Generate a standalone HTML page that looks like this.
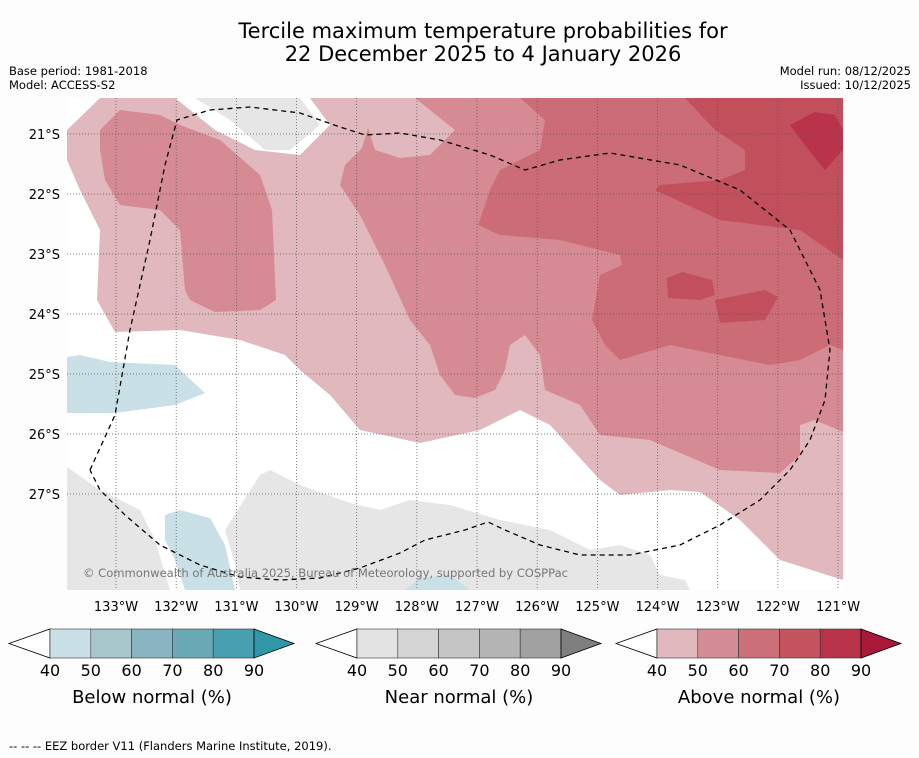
<!DOCTYPE html>
<html><head><meta charset="utf-8"><style>
body{margin:0;background:#fff;font-family:"Liberation Sans","DejaVu Sans",sans-serif}
svg{display:block}
</style></head><body>
<svg id="chart" width="919" height="758" viewBox="0 0 919 758" xmlns="http://www.w3.org/2000/svg" font-family="DejaVu Sans, Liberation Sans, sans-serif">
<rect width="919" height="758" fill="#fdfdfd"/>
<text x="483" y="38" font-size="21" text-anchor="middle">Tercile maximum temperature probabilities for</text>
<text x="483" y="61" font-size="21" text-anchor="middle">22 December 2025 to 4 January 2026</text>
<text x="9" y="75" font-size="11.5">Base period: 1981-2018</text>
<text x="9" y="89" font-size="11.5">Model: ACCESS-S2</text>
<text x="911" y="75" font-size="11.5" text-anchor="end">Model run: 08/12/2025</text>
<text x="911" y="89" font-size="11.5" text-anchor="end">Issued: 10/12/2025</text>
<g id="map">
<clipPath id="mc"><rect x="67" y="98" width="776" height="492"/></clipPath>
<g clip-path="url(#mc)">
<rect x="67" y="98" width="776" height="492" fill="#fff"/>
<polygon fill="#e0b8bd" points="100,98 843,98 843,580 780,560 740,520 700,492 670,490 620,495 600,480 550,425 520,410 480,430 420,443 360,430 330,395 300,370 285,355 240,340 180,330 115,332 97,300 100,230 80,190 67,160 67,130"/>
<polygon fill="#fff" points="175,98 215,130 255,150 300,155 330,125 310,98"/>
<polygon fill="#e6e6e6" points="195,98 230,120 265,150 290,150 320,125 300,98"/>
<polygon fill="#d68a93" points="100,130 120,110 160,115 180,125 220,140 260,175 272,210 276,300 260,310 215,312 190,300 185,290 180,230 160,210 120,205 105,180 100,150"/>
<polygon fill="#d68a93" points="415,98 455,130 430,155 400,158 375,150 368,128 362,148 345,165 340,185 360,215 385,265 410,320 430,345 440,375 455,395 475,398 495,390 505,370 510,345 525,335 540,355 545,390 580,405 600,435 650,440 720,470 780,473 800,455 800,425 815,420 843,432 843,98"/>
<polygon fill="#d68a93" points="453,283 483,283 483,297 465,299"/>
<polygon fill="#cb6c76" points="520,98 545,120 540,150 520,160 500,170 490,190 478,225 500,235 560,240 620,255 622,265 600,275 592,320 605,345 620,360 670,345 720,355 770,365 800,360 830,345 843,350 843,98"/>
<polygon fill="#c24f5c" points="685,98 715,130 745,150 745,170 720,180 660,185 655,190 720,220 800,230 843,260 843,98"/>
<polygon fill="#c24f5c" points="667,278 683,272 712,280 715,295 700,300 668,298"/>
<polygon fill="#c24f5c" points="715,300 765,290 778,297 765,320 720,323"/>
<polygon fill="#b9344a" points="790,125 815,112 835,115 843,130 843,150 825,170 805,145"/>
<polygon fill="#c9e1e6" points="67,357 80,355 110,362 175,365 205,393 175,405 115,413 67,413"/>
<polygon fill="#e6e6e6" points="67,467 100,490 140,510 155,540 170,590 67,590"/>
<polygon fill="#e6e6e6" points="225,530 260,475 270,470 300,485 350,503 380,510 410,500 450,505 500,520 550,530 590,550 620,545 650,555 660,575 685,580 690,590 600,590 240,590 235,565"/>
<polygon fill="#c9e1e6" points="165,515 180,510 210,518 225,545 235,590 185,590 175,560 165,540"/>
<polygon fill="#c9e1e6" points="405,590 420,578 450,575 470,590"/>
<g id="grid" stroke="#555" stroke-width="0.7" stroke-dasharray="1,2"></g>
<polyline fill="none" stroke="#000" stroke-width="1.3" stroke-dasharray="5,4" points="90,470 115,415 130,330 150,240 165,165 177,120 210,110 250,107 300,113 340,127 365,135 400,133 440,140 490,155 525,170 560,160 610,153 680,165 740,190 790,230 820,290 830,350 825,400 810,440 790,470 760,500 720,525 680,545 630,555 580,555 540,545 505,530 488,522 465,530 425,540 400,553 360,568 320,578 280,580 240,577 200,565 160,545 125,515 100,490 90,470"/>
<text x="83" y="577" font-size="11.6" fill="#777" textLength="485">© Commonwealth of Australia 2025, Bureau of Meteorology, supported by COSPPac</text>
</g>
<g id="axes" font-size="13"></g>
</g>
<g id="cbars"></g>
<text x="9" y="750" font-size="11.5">--  --  -- EEZ border V11 (Flanders Marine Institute, 2019).</text>
</svg>
<script>
const lonTicks=[133,132,131,130,129,128,127,126,125,124,123,122,121];
const latTicks=[21,22,23,24,25,26,27];
const cbTicks=[40,50,60,70,80,90];
const belowColors=["#c9e1e6","#a7c7cc","#88b5c1","#6aaab7","#479fb0"];
const nearColors=["#e3e3e3","#d5d5d5","#c5c5c5","#b4b4b4","#a1a1a1"];
const aboveColors=["#e0b8bd","#d58d95","#cc7079","#c4555f","#b8334a"];
const cbTitles=["Below normal (%)","Near normal (%)","Above normal (%)"];
const tipColors=["#2f97a8","#7f7f7f","#a8193a"];
const NS="http://www.w3.org/2000/svg";
const xLon=l=>116+(133-l)*60.17;
const yLat=l=>134+(l-21)*60;
function mk(tag,attrs,parent){const e=document.createElementNS(NS,tag);for(const k in attrs)e.setAttribute(k,attrs[k]);parent.appendChild(e);return e;}
const grid=document.getElementById('grid'),axes=document.getElementById('axes');
lonTicks.forEach(l=>{const x=xLon(l);
const ln=mk('line',{x1:x,x2:x,y1:98,y2:590},grid);


const t=mk('text',{x:x,y:611,'text-anchor':'middle'},axes);t.textContent=l+'°W';

});
latTicks.forEach(l=>{const y=yLat(l);
const ln=mk('line',{x1:67,x2:843,y1:y,y2:y},grid);


const t=mk('text',{x:60,y:y+5,'text-anchor':'end'},axes);t.textContent=l+'°S';

});
const cb=document.getElementById('cbars');
const sets=[belowColors,nearColors,aboveColors];
const starts=[50,357,657];
sets.forEach((cols,i)=>{const x0=starts[i],w=40.8,y0=629,h=29;
const g=mk('g',{},cb);


mk('polygon',{points:`${x0-41},${y0+h/2} ${x0},${y0} ${x0},${y0+h}`,fill:'#fff',stroke:'#000','stroke-width':0.8},g);
cols.forEach((c,j)=>{mk('rect',{x:x0+j*w,y:y0,width:w,height:h,fill:c,stroke:'#333','stroke-width':0.6},g);});
const xe=x0+5*w;
mk('polygon',{points:`${xe},${y0} ${xe+40},${y0+h/2} ${xe},${y0+h}`,fill:tipColors[i],stroke:'#000','stroke-width':0.8},g);
cbTicks.forEach((v,j)=>{const t=mk('text',{x:x0+j*w,y:676,'font-size':16,'text-anchor':'middle'},g);t.textContent=v;});
const tt=mk('text',{x:x0+2.5*w,y:703,'font-size':18,'text-anchor':'middle'},g);tt.textContent=cbTitles[i];
});
</script>
</body></html>
